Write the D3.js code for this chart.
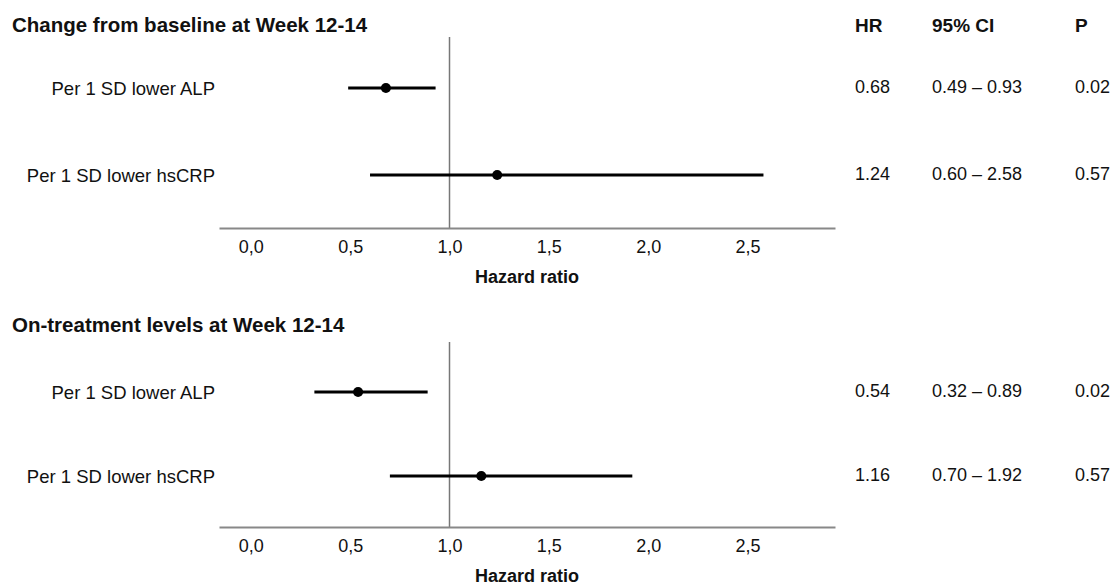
<!DOCTYPE html>
<html>
<head>
<meta charset="utf-8">
<script src="https://cdn.jsdelivr.net/npm/d3@7"></script>
<style>
  body { margin: 0; background: #fff; }
  svg text { font-family: "Liberation Sans", Arial, sans-serif; fill: #111; }
</style>
</head>
<body>
<div id="chart"></div>
<script>
// Data
const panelTitles = ["Change from baseline at Week 12-14", "On-treatment levels at Week 12-14"];
const rowLabels = ["Per 1 SD lower ALP", "Per 1 SD lower hsCRP"];
const hrValues = [[0.68, 1.24], [0.54, 1.16]];
const ciLower = [[0.49, 0.60], [0.32, 0.70]];
const ciUpper = [[0.93, 2.58], [0.89, 1.92]];
const pValues = [["0.02", "0.57"], ["0.02", "0.57"]];
const columnHeaders = ["HR", "95% CI", "P"];
const tickValues = [0, 0.5, 1, 1.5, 2, 2.5];
const axisTitle = "Hazard ratio";

// Layout (pixels)
const width = 1110, height = 587;
const panels = [
    { titleY: 32, top: 37, rowTop: 88, rowBottom: 175, axisY: 228 },
    { titleY: 332, top: 342, rowTop: 392, rowBottom: 476, axisY: 527 }
];
const columnX = [855, 932, 1075];

const svg = d3.select("#chart").append("svg")
    .attr("width", width)
    .attr("height", height);

// shared x scale
const x = d3.scaleLinear()
    .domain([-0.16, 2.94])
    .range([219, 835]);

const commaLocale = d3.formatLocale({ decimal: ",", thousands: ".", grouping: [3], currency: ["", ""] });
const tickFormat = commaLocale.format(".1f");

// column headers
svg.selectAll(".col-header")
    .data(columnHeaders)
    .enter().append("text")
    .attr("class", "col-header")
    .attr("x", (d, i) => columnX[i])
    .attr("y", panels[0].titleY)
    .style("font-size", "19px")
    .style("font-weight", "bold")
    .text(d => d);

panels.forEach((p, pi) => {
    let g = svg.append("g");

    // panel title
    g.append("text")
        .attr("x", 12)
        .attr("y", p.titleY)
        .style("font-size", "20.5px")
        .style("font-weight", "bold")
        .text(panelTitles[pi]);

    let y = d3.scalePoint()
        .domain(rowLabels)
        .range([p.rowTop, p.rowBottom]);

    // reference line at HR = 1
    g.append("line")
        .attr("x1", x(1)).attr("x2", x(1))
        .attr("y1", p.top).attr("y2", p.axisY)
        .attr("stroke", "#777")
        .attr("stroke-width", 1.5);

    // x axis
    let axis = g.append("g")
        .attr("transform", `translate(0, ${p.axisY})`)
        .call(d3.axisBottom(x).tickValues(tickValues).tickFormat(tickFormat).tickSize(0).tickPadding(12));
    axis.select(".domain").attr("stroke", "#888").attr("stroke-width", 2);
    axis.selectAll(".tick text")
        .style("font-size", "18px")
        .style("font-family", "'Liberation Sans', Arial, sans-serif")
        .attr("fill", "#111");

    g.append("text")
        .attr("x", (x.range()[0] + x.range()[1]) / 2)
        .attr("y", p.axisY + 55)
        .attr("text-anchor", "middle")
        .style("font-size", "18px")
        .style("font-weight", "bold")
        .text(axisTitle);

    // row labels
    g.selectAll(".row-label")
        .data(rowLabels)
        .enter().append("text")
        .attr("class", "row-label")
        .attr("x", 215)
        .attr("y", d => y(d))
        .attr("dy", "0.4em")
        .attr("text-anchor", "end")
        .style("font-size", "18.5px")
        .text(d => d);

    // CI lines and point estimates
    g.selectAll(".ci")
        .data(rowLabels)
        .enter().append("line")
        .attr("class", "ci")
        .attr("x1", (d, i) => x(ciLower[pi][i]))
        .attr("x2", (d, i) => x(ciUpper[pi][i]))
        .attr("y1", d => y(d))
        .attr("y2", d => y(d))
        .attr("stroke", "#000")
        .attr("stroke-width", 3);

    g.selectAll(".pt")
        .data(rowLabels)
        .enter().append("circle")
        .attr("class", "pt")
        .attr("cx", (d, i) => x(hrValues[pi][i]))
        .attr("cy", d => y(d))
        .attr("r", 5)
        .attr("fill", "#000");

    // table columns
    let fmt2 = d3.format(".2f");
    rowLabels.forEach((lab, i) => {
        let cells = [
            fmt2(hrValues[pi][i]),
            fmt2(ciLower[pi][i]) + " \u2013 " + fmt2(ciUpper[pi][i]),
            pValues[pi][i]
        ];
        g.selectAll(null)
            .data(cells)
            .enter().append("text")
            .attr("x", (d, c) => columnX[c])
            .attr("y", y(lab))
            .attr("dy", "0.3em")
            .style("font-size", "18px")
            .text(d => d);
    });
});
</script>
</body>
</html>
